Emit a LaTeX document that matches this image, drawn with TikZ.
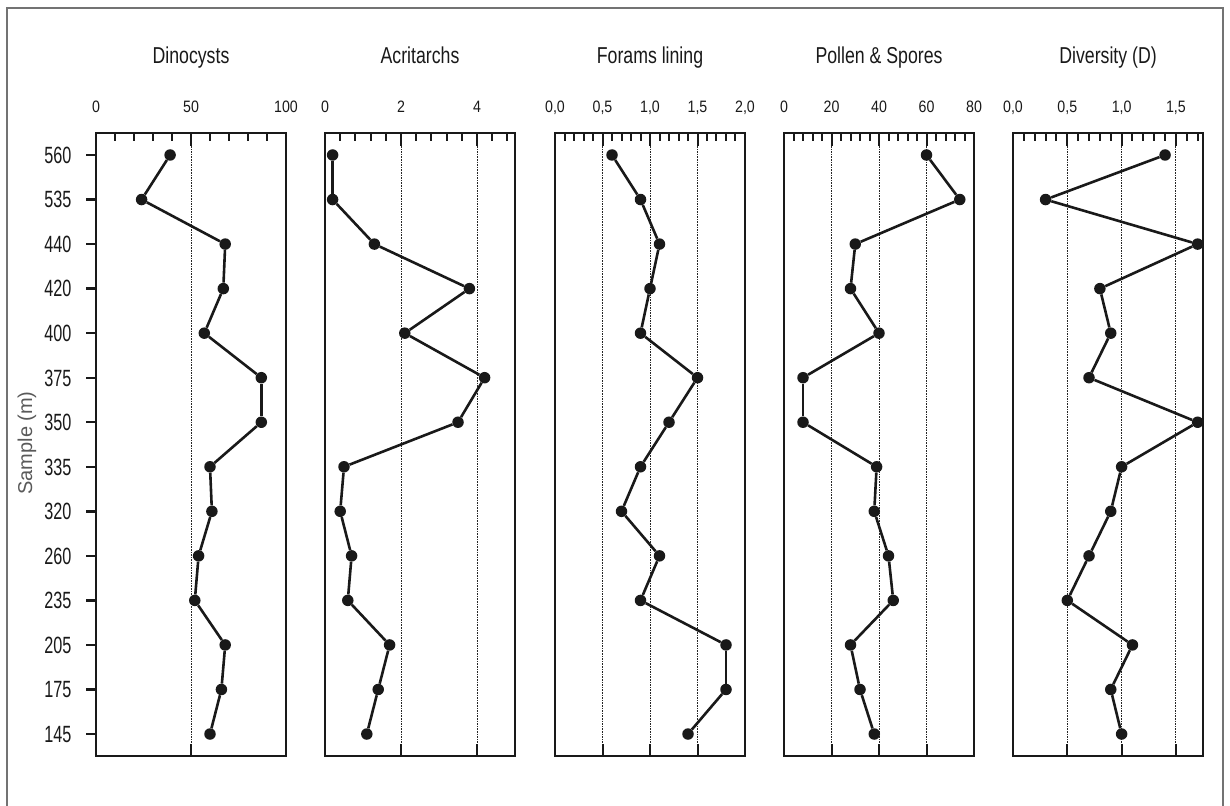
\documentclass[tikz,border=0pt]{standalone}
\usepackage{fontspec}
\setmainfont{Liberation Sans}
\newfontfamily\titlefont[FakeStretch=0.77]{Liberation Sans}
\newfontfamily\axisfont[FakeStretch=0.86]{Liberation Sans}
\newfontfamily\depthfont[FakeStretch=0.69]{Liberation Sans}
\usetikzlibrary{calc}

\tikzset{
  frame/.style={draw=black!55,line width=1.4pt},
  panel/.style={draw=black!90,line width=2.6pt},
  tick/.style={draw=black!90,line width=2pt},
  grid line/.style={draw=black!85,line width=0.9pt,dash pattern=on 1.6pt off 1pt},
  curve/.style={draw=black!90,line width=2.6pt},
  dot/.style={circle,fill=black!90,inner sep=0pt,minimum size=11.5pt},
  title/.style={font=\titlefont\fontsize{23}{23}\selectfont,text=black!90,anchor=base},
  scale label/.style={font=\axisfont\fontsize{16.5}{16.5}\selectfont,text=black!90,anchor=base},
  depth label/.style={font=\depthfont\fontsize{23.5}{23.5}\selectfont,text=black!90,anchor=base east}
}

\begin{document}
\begin{tikzpicture}[x=1pt,y=-1pt]
  \useasboundingbox (0,0) rectangle (1230,805);
  \draw[frame] (7,815) -- (7,8) -- (1223,8) -- (1223,815);

  % depth axis
  \node[rotate=90,font=\fontsize{20}{20}\selectfont,text=black!65] (ytitle) at (27,443) {Sample (m)};
  \foreach \d [count=\i] in {560,535,440,420,400,375,350,335,320,260,235,205,175,145} {
    \coordinate (row\i) at (96,{155+(\i-1)*44.54});
    \draw[tick,line width=2.4pt] (row\i) -- ++(-10,0);
    \node[depth label] (dep\i) at ($(row\i)+(-21,8.3)$) {\d};
  }

  % Dinocysts
  \begin{scope}[xshift=96pt,x=1.9pt]
    \node[title] (t1) at (50,64) {Dinocysts};
    \foreach \v [count=\k] in {0,50,100} \node[scale label] (a1-\k) at (\v,113) {\v};
    \foreach \t in {10,20,...,90} \draw[tick] (\t,133) -- ++(0,8);
    \foreach \t in {50} {
      \draw[grid line] (\t,133) -- (\t,756);
      \draw[tick] (\t,133) -- ++(0,13);
      \draw[tick] (\t,756) -- ++(0,-12);
    }
    \draw[panel] (0,133) rectangle (100,756);
    \foreach \v [count=\i] in {39,24,68,67,57,87,87,60,61,54,52,68,66,60}
      \node[dot] (dino\i) at (\v,{155+(\i-1)*44.54}) {};
    \foreach \i [remember=\i as \j (initially 1)] in {2,...,14}
      \draw[curve] (dino\j) -- (dino\i);
  \end{scope}

  % Acritarchs
  \begin{scope}[xshift=325pt,x=38pt]
    \node[title] (t2) at (2.5,64) {Acritarchs};
    \foreach \v [count=\k] in {0,2,4} \node[scale label] (a2-\k) at (\v,113) {\v};
    \foreach \t in {0.4,0.8,...,4.81} \draw[tick] (\t,133) -- ++(0,8);
    \foreach \t in {2,4} {
      \draw[grid line] (\t,133) -- (\t,756);
      \draw[tick] (\t,133) -- ++(0,13);
      \draw[tick] (\t,756) -- ++(0,-12);
    }
    \draw[panel] (0,133) rectangle (5,756);
    \foreach \v [count=\i] in {0.2,0.2,1.3,3.8,2.1,4.2,3.5,0.5,0.4,0.7,0.6,1.7,1.4,1.1}
      \node[dot] (acri\i) at (\v,{155+(\i-1)*44.54}) {};
    \foreach \i [remember=\i as \j (initially 1)] in {2,...,14}
      \draw[curve] (acri\j) -- (acri\i);
  \end{scope}

  % Forams lining
  \begin{scope}[xshift=555pt,x=95pt]
    \node[title] (t3) at (1,64) {Forams lining};
    \foreach \v/\l [count=\k] in {0/{0,0},0.5/{0,5},1/{1,0},1.5/{1,5},2/{2,0}}
      \node[scale label] (a3-\k) at (\v,113) {\l};
    \foreach \t in {0.1,0.2,...,1.91} \draw[tick] (\t,133) -- ++(0,8);
    \foreach \t in {0.5,1,1.5} {
      \draw[grid line] (\t,133) -- (\t,756);
      \draw[tick] (\t,133) -- ++(0,13);
      \draw[tick] (\t,756) -- ++(0,-12);
    }
    \draw[panel] (0,133) rectangle (2,756);
    \foreach \v [count=\i] in {0.6,0.9,1.1,1.0,0.9,1.5,1.2,0.9,0.7,1.1,0.9,1.8,1.8,1.4}
      \node[dot] (fora\i) at (\v,{155+(\i-1)*44.54}) {};
    \foreach \i [remember=\i as \j (initially 1)] in {2,...,14}
      \draw[curve] (fora\j) -- (fora\i);
  \end{scope}

  % Pollen & Spores
  \begin{scope}[xshift=784pt,x=2.375pt]
    \node[title] (t4) at (40,64) {Pollen \& Spores};
    \foreach \v [count=\k] in {0,20,40,60,80} \node[scale label] (a4-\k) at (\v,113) {\v};
    \foreach \t in {4,8,...,76} \draw[tick] (\t,133) -- ++(0,8);
    \foreach \t in {20,40,60} {
      \draw[grid line] (\t,133) -- (\t,756);
      \draw[tick] (\t,133) -- ++(0,13);
      \draw[tick] (\t,756) -- ++(0,-12);
    }
    \draw[panel] (0,133) rectangle (80,756);
    \foreach \v [count=\i] in {60,74,30,28,40,8,8,39,38,44,46,28,32,38}
      \node[dot] (poll\i) at (\v,{155+(\i-1)*44.54}) {};
    \foreach \i [remember=\i as \j (initially 1)] in {2,...,14}
      \draw[curve] (poll\j) -- (poll\i);
  \end{scope}

  % Diversity (D)
  \begin{scope}[xshift=1013pt,x=108.6pt]
    \node[title] (t5) at (0.875,64) {Diversity (D)};
    \foreach \v/\l [count=\k] in {0/{0,0},0.5/{0,5},1/{1,0},1.5/{1,5}}
      \node[scale label] (a5-\k) at (\v,113) {\l};
    \foreach \t in {0.1,0.2,...,1.71} \draw[tick] (\t,133) -- ++(0,8);
    \foreach \t in {0.5,1,1.5} {
      \draw[grid line] (\t,133) -- (\t,756);
      \draw[tick] (\t,133) -- ++(0,13);
      \draw[tick] (\t,756) -- ++(0,-12);
    }
    \draw[panel] (0,133) rectangle (1.75,756);
    \foreach \v [count=\i] in {1.4,0.3,1.7,0.8,0.9,0.7,1.7,1.0,0.9,0.7,0.5,1.1,0.9,1.0}
      \node[dot] (dive\i) at (\v,{155+(\i-1)*44.54}) {};
    \foreach \i [remember=\i as \j (initially 1)] in {2,...,14}
      \draw[curve] (dive\j) -- (dive\i);
  \end{scope}
\end{tikzpicture}
\end{document}
